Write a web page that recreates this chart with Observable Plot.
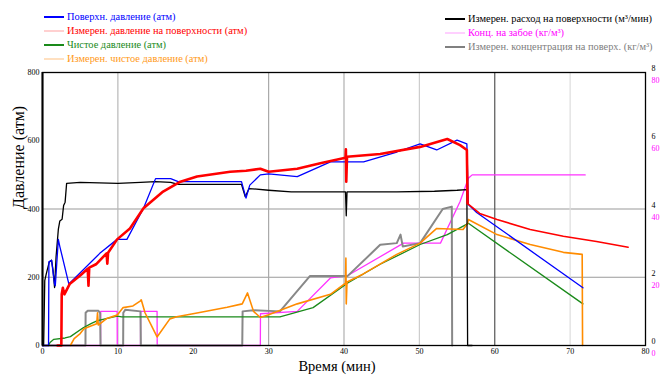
<!DOCTYPE html>
<html>
<head>
<meta charset="utf-8">
<script src="https://cdn.jsdelivr.net/npm/d3@7"></script>
<script src="https://cdn.jsdelivr.net/npm/@observablehq/plot@0.6"></script>
<style>
  body { margin: 0; background: #fff; font-family: "Liberation Serif", "DejaVu Serif", serif; }
  #wrap { position: relative; width: 661px; height: 376px; overflow: hidden; }
  #legend { position: relative; height: 62px; }
  .item { position: absolute; font-family: "Liberation Serif", "DejaVu Serif", serif; font-size: 10.4px; line-height: 12px; white-space: nowrap; }
  .item .sw { display: inline-block; width: 20px; height: 0; border-top: 2px solid; vertical-align: middle; margin-right: 3px; position: relative; top: -1px; }
</style>
</head>
<body>
<div id="wrap">
  <div id="legend"></div>
  <div id="chart"></div>
</div>
<script>
// Time axis (min) and pressure axis (atm)
const xTicks = [0, 10, 20, 30, 40, 50, 60, 70, 80];
const yTicks = [0, 200, 400, 600, 800];

// Series: [time (min), value]
const surfacePressure = [ // Поверхн. давление, atm
  [0, 0], [0.8, 0], [0.85, 245], [1.2, 250], [1.6, 180], [1.7, 175], [2.1, 311], [2.3, 290],
  [3.5, 180], [7.6, 270], [9.9, 311], [11.2, 311], [13.4, 402], [15, 489], [17, 489], [18, 480],
  [26.4, 480], [27, 432], [27.5, 470], [28.9, 500], [30, 503], [33.8, 495], [38.2, 538],
  [42.6, 538], [47, 567], [50.1, 591], [52.3, 573], [55, 602], [56.3, 591], [56.5, 413],
  [57.6, 390], [71.7, 169]
];
const measSurfacePressure = [ // Измерен. давление на поверхности, atm (pumping)
  [2, 0], [2.5, 0], [2.55, 150], [2.7, 169], [2.9, 150], [3.6, 180], [5, 205], [6, 225],
  [6.1, 175], [6.2, 228], [7.1, 238], [8.5, 270], [8.6, 240], [8.7, 272], [9.9, 311],
  [11.6, 343], [13.4, 402], [16, 451], [18.3, 480], [20.5, 495], [24.9, 509], [27, 512],
  [28.9, 518], [30, 509], [33.8, 518], [37, 535], [40.2, 550], [40.25, 575], [40.3, 480],
  [40.4, 553], [44.8, 561], [50.1, 582], [53.7, 605], [55.4, 587], [56.3, 573], [56.4, 416]
];
const measSurfacePressureShutIn = [ // Измерен. давление на поверхности, atm (after shut-in)
  [56.4, 416], [58, 387], [60.3, 369], [64.7, 340], [69.1, 320], [73.5, 305], [77.7, 288]
];
const netPressure = [ // Чистое давление, atm
  [0.8, 0], [1, 9], [1.5, 18], [3, 22], [3.7, 26], [5.4, 52], [6.5, 65], [7.3, 73], [9.9, 86],
  [10.5, 84], [31.5, 84], [35.9, 111], [40.5, 183], [44.8, 238], [50.1, 296], [53.7, 325],
  [56.5, 358], [71.7, 122]
];
const measNetPressure = [ // Измерен. чистое давление, atm
  [3.7, 0], [4.2, 20], [5, 35], [5.5, 49], [6.5, 58], [7.2, 64], [7.3, 96], [7.4, 60],
  [8.5, 79], [9.9, 89], [10.7, 111], [12, 116], [13, 131], [13.1, 134], [13.6, 96],
  [15.2, 25], [16.9, 78], [17.8, 84], [20.5, 95], [24.5, 112], [26.5, 122], [27.2, 154],
  [28, 100], [28.9, 82], [30, 90], [33.8, 122], [38.2, 150], [40.2, 183], [40.25, 256],
  [40.3, 122], [40.4, 186], [42.5, 209], [47, 267], [50.1, 300], [52.3, 343], [55.8, 340],
  [56.4, 358], [56.5, 369], [60.3, 325], [64.7, 296], [69.1, 273], [71.6, 267], [71.65, 0]
];
const measFlow = [ // Измерен. расход на поверхности, m3/min
  [0, 0], [0.15, 0], [0.3, 1.9], [0.5, 2.1], [0.9, 2.45], [1.2, 2.5], [1.4, 2.2], [1.6, 1.7],
  [1.8, 2.6], [2.1, 3.4], [2.3, 3.65], [2.6, 3.7], [2.8, 4.1], [3.0, 4.2], [3.2, 4.75],
  [5, 4.78], [10, 4.75], [13, 4.78], [15, 4.8], [17, 4.78], [18, 4.72], [26.4, 4.72],
  [26.9, 4.36], [27.4, 4.6], [30, 4.55], [33, 4.5], [40.2, 4.5], [40.3, 3.8], [40.4, 4.5],
  [47, 4.5], [52, 4.52], [55, 4.55], [56.3, 4.57], [56.4, 0], [57, 0]
];
const bottomConc = [ // Конц. на забое, kg/m3
  [0, 0], [7.7, 0], [7.72, 10], [9.9, 10], [9.92, 0], [13, 0], [13.02, 10], [15.2, 10],
  [15.22, 0], [28.9, 0], [28.92, 9.3], [33.8, 10], [38.2, 19.8], [40.5, 20.5], [47.9, 30],
  [52.8, 30], [55.4, 42.2], [56.5, 49], [57, 50], [72, 50]
];
const measSurfaceConc = [ // Измерен. концентрация на поверх., kg/m3
  [0, 0], [5.7, 0], [5.72, 9.6], [6, 10.2], [7.4, 10.2], [7.65, 9.5], [7.7, 0], [10.7, 0],
  [10.72, 9.6], [11, 10.5], [13, 10], [13.05, 0], [26.5, 0], [26.55, 10], [28, 10.3],
  [31.5, 10], [35.5, 20.4], [40.5, 20.4], [44.8, 29.5], [47, 30], [47.5, 32.5], [47.8, 29],
  [50.1, 30], [53.1, 40], [54.3, 40.7], [54.35, 0]
];

// Flow and concentration share the pressure scale: 1 m3/min = 100 atm, 1 kg/m3 = 10 atm
const FLOW_K = 100, CONC_K = 10;

const legendItems = [
  {x: 44, y: 11, color: "#0000ff", sw: "#0000ff", text: "Поверхн. давление (атм)"},
  {x: 44, y: 25, color: "#ff0000", sw: "#ffd0d0", text: "Измерен. давление на поверхности (атм)"},
  {x: 44, y: 39, color: "#1a8a1a", sw: "#1a8a1a", text: "Чистое давление (атм)"},
  {x: 44, y: 53, color: "#ff9a1a", sw: "#ffe0c0", text: "Измерен. чистое давление (атм)"},
  {x: 445, y: 13, color: "#000000", sw: "#000000", text: "Измерен. расход на поверхности (м³/мин)"},
  {x: 445, y: 27, color: "#ff00ff", sw: "#ffd0ff", text: "Конц. на забое (кг/м³)"},
  {x: 445, y: 41, color: "#808080", sw: "#808080", text: "Измерен. концентрация на поверх. (кг/м³)"}
];
const legend = document.getElementById("legend");
for (const it of legendItems) {
  const el = document.createElement("div");
  el.className = "item";
  el.style.left = it.x + "px";
  el.style.top = it.y + "px";
  el.style.color = it.color;
  el.innerHTML = `<span class="sw" style="border-color:${it.sw}"></span>${it.text}`;
  legend.appendChild(el);
}

const px = (k) => ({x: (d) => d[0], y: (d) => d[1] * k});

const chart = Plot.plot({
  width: 661,
  height: 314,
  marginTop: 10,
  marginBottom: 31,
  marginLeft: 42,
  marginRight: 16,
  style: {fontFamily: "'Liberation Serif', 'DejaVu Serif', serif", fontSize: "8px", background: "white", overflow: "visible"},
  x: {domain: [0, 80]},
  y: {domain: [0, 800]},
  marks: [
    Plot.ruleY([200, 400], {stroke: "#9a9a9a", strokeWidth: 1.2}),
    Plot.ruleX([10], {stroke: "#b8b8b8", strokeWidth: 1.2}),
    Plot.ruleX([30], {stroke: "#a8a8a8", strokeWidth: 1.2}),
    Plot.ruleX([40], {stroke: "#b0b0b0", strokeWidth: 1.2}),
    Plot.ruleX([50], {stroke: "#cccccc", strokeWidth: 1.2}),
    Plot.ruleX([60], {stroke: "#555555", strokeWidth: 1.2}),
    Plot.ruleX([70], {stroke: "#dddddd", strokeWidth: 1.2}),
    Plot.line(bottomConc, {...px(CONC_K), stroke: "#ff33ff", strokeWidth: 1.3}),
    Plot.line(measSurfaceConc, {...px(CONC_K), stroke: "#888888", strokeWidth: 2}),
    Plot.line(netPressure, {...px(1), stroke: "#1a8a1a", strokeWidth: 1.3}),
    Plot.line(measNetPressure, {...px(1), stroke: "#ff8c00", strokeWidth: 1.6}),
    Plot.line(measFlow, {...px(FLOW_K), stroke: "#000000", strokeWidth: 1.3}),
    Plot.line(surfacePressure, {...px(1), stroke: "#0000ff", strokeWidth: 1.3}),
    Plot.line(measSurfacePressure, {...px(1), stroke: "#ff0000", strokeWidth: 2.6}),
    Plot.line(measSurfacePressureShutIn, {...px(1), stroke: "#ff0000", strokeWidth: 1.6}),
    Plot.frame({stroke: "#000", strokeWidth: 1.3}),
    Plot.ruleX([0], {stroke: "#000", strokeWidth: 2}),
    Plot.axisX({ticks: xTicks, tickSize: 0, tickPadding: 3, label: null}),
    Plot.axisY({ticks: yTicks, tickSize: 0, tickPadding: 3, label: null}),
    Plot.axisY({anchor: "right", ticks: yTicks, tickFormat: (d) => d / FLOW_K, tickSize: 0, tickPadding: 6, dy: -4, label: null}),
    Plot.axisY({anchor: "right", ticks: yTicks, tickFormat: (d) => d / CONC_K, tickSize: 0, tickPadding: 6, dy: 8, fill: "#ff00ff", label: null}),
    Plot.text([{label: "Время (мин)"}], {text: "label", frameAnchor: "bottom", dx: -7, dy: 25, fontSize: 14.5}),
    Plot.text([{label: "Давление (атм)", v: 400}], {text: "label", y: "v", frameAnchor: "left", dx: -24, rotate: -90, fontSize: 16})
  ]
});
document.getElementById("chart").appendChild(chart);
</script>
</body>
</html>
